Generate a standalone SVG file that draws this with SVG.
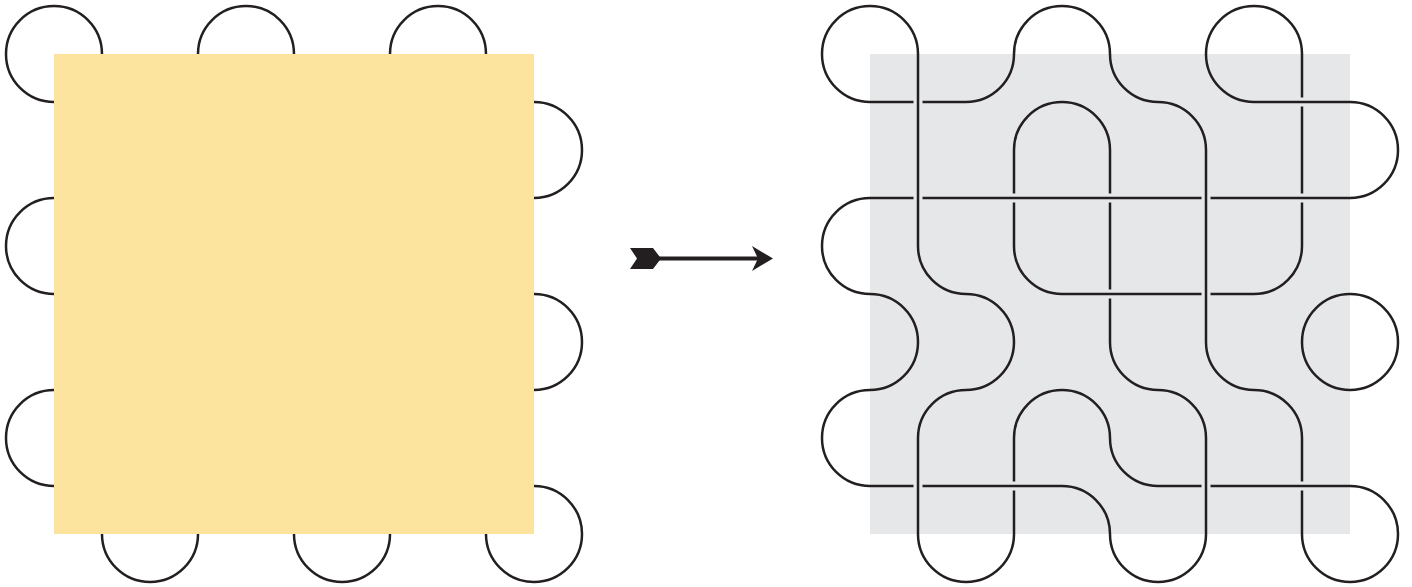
<svg xmlns="http://www.w3.org/2000/svg" xmlns:xlink="http://www.w3.org/1999/xlink" width="1412" height="587" viewBox="0 0 1412 587">
  <style>
    .ln { fill: none; stroke: #231f20; stroke-width: 2.5; stroke-linecap: butt; }
    .halo { fill: none; stroke: #e6e7e8; stroke-width: 9; stroke-linecap: butt; }
    .ink { fill: #231f20; }
  </style>
  <defs>
    <path id="loops" d="M48,0 A48,48 0 1 0 0,48
      M144,0 A48,48 0 0 1 240,0
      M336,0 A48,48 0 0 1 432,0
      M480,48 A48,48 0 0 1 480,144
      M480,240 A48,48 0 0 1 480,336
      M480,432 A48,48 0 1 1 432,480
      M240,480 A48,48 0 0 0 336,480
      M48,480 A48,48 0 0 0 144,480
      M0,144 A48,48 0 0 0 0,240
      M0,336 A48,48 0 0 0 0,432"/>
  </defs>

  <g id="left-panel" transform="translate(54,54)">
    <use xlink:href="#loops" class="ln"/>
    <rect x="0" y="0" width="480" height="480" fill="#fce39e"/>
  </g>

  <g id="connectors">
    <g id="arrow">
      <line x1="655" y1="258.5" x2="760" y2="258.5" stroke="#231f20" stroke-width="3.8"/>
      <polygon class="ink" points="630,248 653,248 661,258.5 653,269 630,269 637,258.5"/>
      <polygon class="ink" points="752,246 773,258.5 752,271 758,258.5"/>
    </g>
  </g>

  <g id="right-panel" transform="translate(870,54)">
    <rect x="0" y="0" width="480" height="480" fill="#e6e7e8"/>
    <use xlink:href="#loops" class="ln"/>
    <path id="arcs" class="ln" d="
      M144,0 A48,48 0 0 1 96,48  M144,96 A48,48 0 0 1 192,48
      M240,0 A48,48 0 0 0 288,48  M192,48 A48,48 0 0 1 240,96
      M336,0 A48,48 0 0 0 384,48  M288,48 A48,48 0 0 1 336,96
      M48,192 A48,48 0 0 0 96,240  M0,240 A48,48 0 0 1 48,288
      M144,192 A48,48 0 0 0 192,240  M96,240 A48,48 0 0 1 144,288
      M432,192 A48,48 0 0 1 384,240  M432,288 A48,48 0 0 1 480,240
      M48,288 A48,48 0 0 1 0,336  M48,384 A48,48 0 0 1 96,336
      M144,288 A48,48 0 0 1 96,336  M144,384 A48,48 0 0 1 192,336
      M240,288 A48,48 0 0 0 288,336  M192,336 A48,48 0 0 1 240,384
      M336,288 A48,48 0 0 0 384,336  M288,336 A48,48 0 0 1 336,384
      M432,288 A48,48 0 0 0 480,336  M384,336 A48,48 0 0 1 432,384
      M240,384 A48,48 0 0 0 288,432  M192,432 A48,48 0 0 1 240,480"/>
    <path id="under" class="ln" d="
      M0,48 H96 M0,144 H96 M288,144 H384 M288,240 H384 M0,432 H96 M288,432 H384
      M432,0 V96 M144,96 V192 M240,96 V192 M432,96 V192 M240,192 V288 M144,384 V480 M432,384 V480"/>
    <path id="halos" class="halo" d="
      M48,40 V56 M48,136 V152 M336,136 V152 M336,232 V248 M48,424 V440 M336,424 V440
      M424,48 H440 M136,144 H152 M232,144 H248 M424,144 H440 M232,240 H248 M136,432 H152 M424,432 H440"/>
    <path id="over" class="ln" d="
      M48,0 V192 M336,96 V288 M48,384 V480 M336,384 V480
      M384,48 H480 M96,144 H288 M384,144 H480 M192,240 H288 M96,432 H192 M384,432 H480"/>
  </g>
</svg>
